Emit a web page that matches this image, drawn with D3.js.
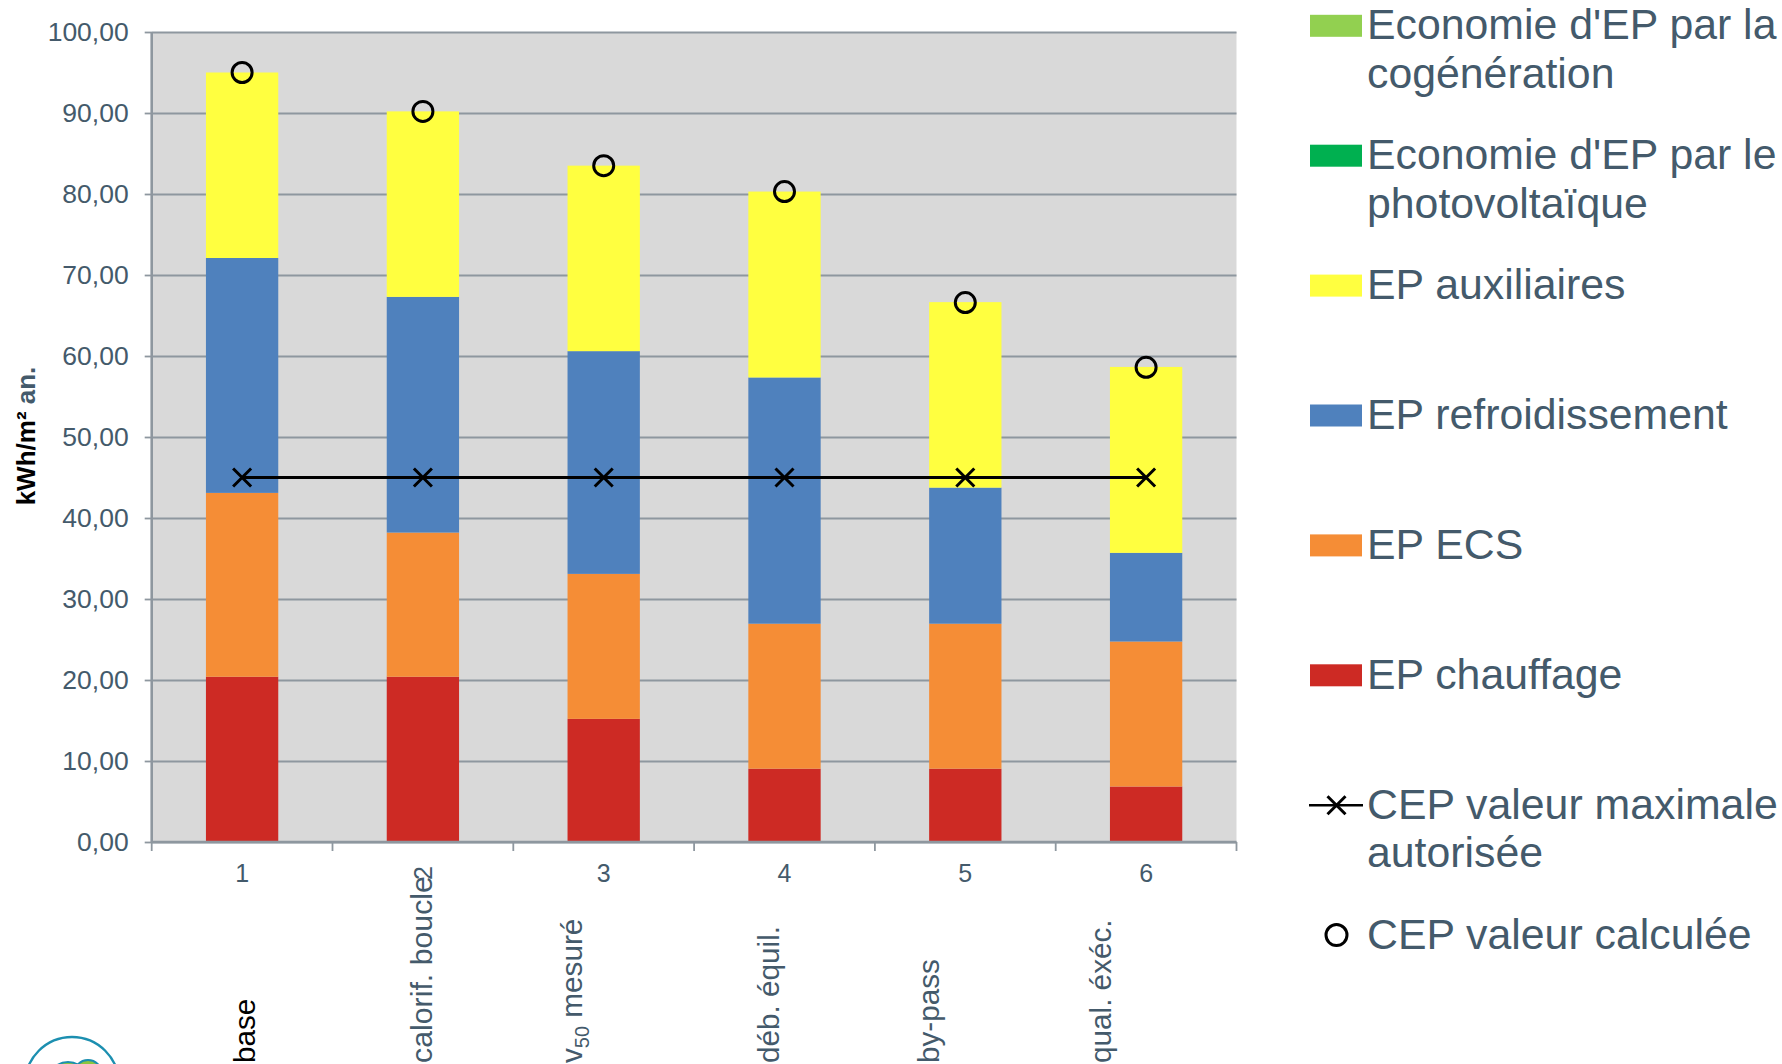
<!DOCTYPE html>
<html lang="fr">
<head>
<meta charset="utf-8">
<title>CEP – consommation d'énergie primaire par variante</title>
<script src="https://cdn.jsdelivr.net/npm/d3@7"></script>
<style>
  html, body { margin: 0; padding: 0; background: #ffffff; }
  svg { display: block; font-family: "Liberation Sans", Arial, Helvetica, sans-serif; }
</style>
</head>
<body>
<svg id="chart" width="1782" height="1064"></svg>
<script>
// Variantes (numéros sur l'axe) et leurs libellés
const categories = ["1", "2", "3", "4", "5", "6"];
const categoryNames = ["base", "calorif. boucle", "v_{50} mesuré", "déb. équil.", "by-pass", "qual. éxéc."];

// Postes de consommation en énergie primaire (kWh/m² an)
const epChauffage       = [20.4, 20.4, 15.2, 9.05, 9.05, 6.85];
const epEcs             = [22.7, 17.8, 17.9, 17.9, 17.9, 17.9];
const epRefroidissement = [29.0, 29.1, 27.5, 30.4, 16.8, 10.95];
const epAuxiliaires     = [22.9, 22.9, 22.9, 22.95, 22.9, 22.95];
const ecoPhotovoltaique = [0, 0, 0, 0, 0, 0];
const ecoCogeneration   = [0, 0, 0, 0, 0, 0];

// Coefficient CEP
const cepMax    = [45, 45, 45, 45, 45, 45];
const cepCalcul = [95.0, 90.2, 83.5, 80.3, 66.6, 58.6];

// Graduations de l'axe des ordonnées
const yTicks = [0, 10, 20, 30, 40, 50, 60, 70, 80, 90, 100];

// Séries empilées (de bas en haut) et légende (de haut en bas)
const seriesKeys   = ["chauffage", "ecs", "refroid", "aux", "pv", "cogen"];
const seriesValues = [epChauffage, epEcs, epRefroidissement, epAuxiliaires, ecoPhotovoltaique, ecoCogeneration];
const seriesColors = ["#CD2A24", "#F58D36", "#4F81BD", "#FFFF40", "#00B050", "#92D050"];

const legendLabels = [
  ["Economie d'EP par la", "cogénération"],
  ["Economie d'EP par le", "photovoltaïque"],
  ["EP auxiliaires"],
  ["EP refroidissement"],
  ["EP ECS"],
  ["EP chauffage"],
  ["CEP valeur maximale", "autorisée"],
  ["CEP valeur calculée"]
];
const legendKinds = ["cogen", "pv", "aux", "refroid", "ecs", "chauffage", "line", "circle"];

// ---- mise en page ----
const textColor = "#445A6B";
const gridColor = "#8E979F";
const plot = { left: 151.7, right: 1236.5, top: 32, bottom: 842 };
// décalage horizontal des libellés verticaux par rapport au centre de la barre, et taille du texte
const labelNudge = [13, 9, -22, -6, -26, -35];
const labelSize  = [29.7, 30.3, 29.7, 29.7, 29.7, 29.7];

const svg = d3.select("#chart");

const x = d3.scaleBand()
  .domain(categories)
  .range([plot.left, plot.right])
  .paddingInner(0.6)
  .paddingOuter(0.3);

const y = d3.scaleLinear()
  .domain([0, 100])
  .range([plot.bottom, plot.top]);

const color = d3.scaleOrdinal().domain(seriesKeys).range(seriesColors);

const frLocale = d3.formatLocale({ decimal: ",", thousands: " ", grouping: [3], currency: ["", " €"] });
const fmt = frLocale.format(".2f");

// fond de la zone de tracé
svg.append("rect")
  .attr("x", plot.left).attr("y", plot.top)
  .attr("width", plot.right - plot.left)
  .attr("height", plot.bottom - plot.top)
  .attr("fill", "#D9D9D9");

// quadrillage horizontal
const grid = svg.append("g")
  .attr("transform", `translate(${plot.left},0)`)
  .call(d3.axisLeft(y).tickValues(yTicks).tickSize(-(plot.right - plot.left)).tickFormat(""));
grid.select(".domain").remove();
grid.selectAll(".tick line").attr("stroke", gridColor).attr("stroke-width", 1.8);

// axe des ordonnées
const yAxis = svg.append("g")
  .attr("transform", `translate(${plot.left},0)`)
  .call(d3.axisLeft(y).tickValues(yTicks).tickSize(7).tickPadding(16).tickFormat(fmt));
yAxis.select(".domain").remove();
yAxis.selectAll(".tick line").attr("stroke", gridColor).attr("stroke-width", 1.8);
yAxis.selectAll(".tick text")
  .attr("fill", textColor)
  .style("font-size", "26.5px")
  .style("font-family", "'Liberation Sans', Arial, sans-serif");

// barres empilées
const rows = categories.map((c, i) => {
  const r = { cat: c };
  seriesKeys.forEach((k, j) => { r[k] = seriesValues[j][i]; });
  return r;
});
const stacked = d3.stack().keys(seriesKeys)(rows);

svg.append("g")
  .selectAll("g")
  .data(stacked)
  .join("g")
    .attr("fill", d => color(d.key))
  .selectAll("rect")
  .data(d => d)
  .join("rect")
    .attr("x", d => x(d.data.cat))
    .attr("y", d => y(d[1]))
    .attr("width", x.bandwidth())
    .attr("height", d => Math.max(0, y(d[0]) - y(d[1])));

// axe vertical (trait)
svg.append("line")
  .attr("x1", plot.left).attr("x2", plot.left)
  .attr("y1", plot.top).attr("y2", plot.bottom)
  .attr("stroke", gridColor).attr("stroke-width", 2.6);

// axe des abscisses : trait, graduations entre les catégories, numéros
const step = x.step();
const boundaries = d3.range(categories.length + 1).map(i => plot.left + i * step);
svg.append("line")
  .attr("x1", plot.left).attr("x2", plot.right)
  .attr("y1", plot.bottom).attr("y2", plot.bottom)
  .attr("stroke", gridColor).attr("stroke-width", 2.6);
svg.append("g").selectAll("line")
  .data(boundaries)
  .join("line")
    .attr("x1", d => d).attr("x2", d => d)
    .attr("y1", plot.bottom).attr("y2", plot.bottom + 9)
    .attr("stroke", gridColor).attr("stroke-width", 1.8);

const xAxis = svg.append("g")
  .attr("transform", `translate(0,${plot.bottom})`)
  .call(d3.axisBottom(x).tickSize(0).tickPadding(22));
xAxis.select(".domain").remove();
xAxis.selectAll(".tick text")
  .attr("fill", textColor)
  .style("font-size", "25px")
  .style("font-family", "'Liberation Sans', Arial, sans-serif");
// le numéro 2 suit le libellé vertical « calorif. boucle »
xAxis.selectAll(".tick text")
  .filter(d => d === "2")
  .attr("y", 0).attr("dy", 0)
  .attr("text-anchor", "middle")
  .attr("transform", "translate(9,31) rotate(-90)");

// libellés verticaux des variantes
const names = svg.append("g");
categoryNames.forEach((name, i) => {
  const cx = x(categories[i]) + x.bandwidth() / 2 + labelNudge[i];
  const t = names.append("text")
    .attr("transform", `translate(${cx},1063) rotate(-90)`)
    .style("font-size", labelSize[i] + "px")
    .attr("fill", i === 0 ? "#000000" : textColor);
  const parts = name.split(/_\{|\}/);
  parts.forEach((p, k) => {
    if (!p) return;
    const sub = k % 2 === 1;
    const ts = t.append("tspan").text(p);
    if (sub) ts.attr("dy", 7).style("font-size", "20px");
    else if (k > 0) ts.attr("dy", -7);
  });
});

// CEP maximal : ligne avec croix
const cx = i => x(categories[i]) + x.bandwidth() / 2;
svg.append("path")
  .datum(cepMax)
  .attr("fill", "none")
  .attr("stroke", "#000")
  .attr("stroke-width", 2.8)
  .attr("d", d3.line().x((d, i) => cx(i)).y(d => y(d)));

const cross = "M-9,-9L9,9M-9,9L9,-9";
svg.append("g").selectAll("path")
  .data(cepMax)
  .join("path")
    .attr("transform", (d, i) => `translate(${cx(i)},${y(d)})`)
    .attr("d", cross)
    .attr("stroke", "#000").attr("stroke-width", 3).attr("fill", "none");

// CEP calculé : cercles
svg.append("g").selectAll("circle")
  .data(cepCalcul)
  .join("circle")
    .attr("cx", (d, i) => cx(i))
    .attr("cy", d => y(d))
    .attr("r", 10)
    .attr("fill", "none")
    .attr("stroke", "#000").attr("stroke-width", 3);

// titre de l'axe des ordonnées
svg.append("text")
  .attr("transform", "translate(35,436) rotate(-90)")
  .attr("text-anchor", "middle")
  .style("font-size", "26px")
  .style("font-weight", "bold")
  .call(t => {
    t.append("tspan").attr("fill", "#000").text("kWh/m²");
    t.append("tspan").attr("fill", textColor).text(" an.");
  });

// légende
const legend = svg.append("g").style("font-size", "42.8px");
legendLabels.forEach((lines, i) => {
  const cyL = 25.8 + i * 129.9;
  const kind = legendKinds[i];
  const g = legend.append("g");
  if (kind === "line") {
    g.append("line").attr("x1", 1309).attr("x2", 1363).attr("y1", cyL).attr("y2", cyL)
      .attr("stroke", "#000").attr("stroke-width", 2.6);
    g.append("path").attr("transform", `translate(1336.5,${cyL})`).attr("d", cross)
      .attr("stroke", "#000").attr("stroke-width", 3).attr("fill", "none");
  } else if (kind === "circle") {
    g.append("circle").attr("cx", 1336.5).attr("cy", cyL).attr("r", 10.5)
      .attr("fill", "none").attr("stroke", "#000").attr("stroke-width", 3);
  } else {
    g.append("rect").attr("x", 1310).attr("y", cyL - 11).attr("width", 52).attr("height", 22)
      .attr("fill", color(kind));
  }
  const t = g.append("text").attr("x", 1367).attr("y", cyL + 13.5).attr("fill", textColor);
  lines.forEach((ln, k) => {
    t.append("tspan").attr("x", 1367).attr("dy", k === 0 ? 0 : 48.3).text(ln);
  });
});

// logo (coin inférieur gauche)
const logo = svg.append("g");
logo.append("circle").attr("cx", 72).attr("cy", 1084).attr("r", 47)
  .attr("fill", "#fff").attr("stroke", "#1C8FB0").attr("stroke-width", 2.4);
logo.append("circle").attr("cx", 68).attr("cy", 1082).attr("r", 20)
  .attr("fill", "#8CC63F").attr("stroke", "#1C8FB0").attr("stroke-width", 2);
logo.append("circle").attr("cx", 88).attr("cy", 1074).attr("r", 14)
  .attr("fill", "#8CC63F").attr("stroke", "#1C8FB0").attr("stroke-width", 2);
</script>
</body>
</html>
